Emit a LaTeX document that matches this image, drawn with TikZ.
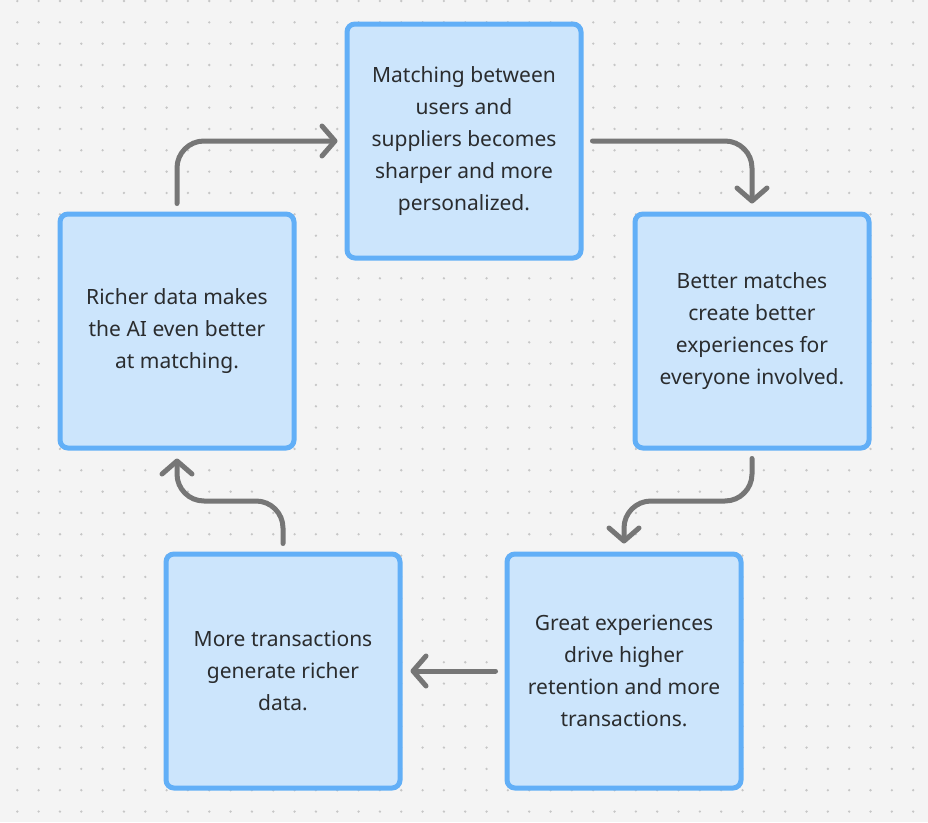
\documentclass[tikz,border=0pt]{standalone}
\usepackage{fontspec}
\setmainfont{Noto Sans}
\usepackage{tikz}
\usetikzlibrary{calc,arrows.meta}
\definecolor{bggray}{HTML}{F4F4F4}
\definecolor{dotgray}{HTML}{C6C6C6}
\definecolor{boxfill}{HTML}{CCE5FC}
\definecolor{boxline}{HTML}{62AFF7}
\definecolor{arrgray}{HTML}{767676}
\definecolor{txtgray}{HTML}{2A2C2E}

\begin{document}
\begin{tikzpicture}[x=1pt,y=-1pt,
    stepbox/.style={draw=boxline, fill=boxfill, line width=5pt, rounded corners=8pt,
      minimum width=234pt, minimum height=234pt, align=center, text=txtgray,
      font=\fontsize{21}{32}\selectfont},
    flow/.style={draw=arrgray, line width=5pt, line cap=round, line join=round, rounded corners=27pt,
      -{Straight Barb[length=13pt,width=30pt,round]}}]
      \useasboundingbox (0,0) rectangle (928,822);
      \fill[bggray] (0,0) rectangle (928,822);
      \foreach \i in {0,...,42}
        \foreach \j in {0,...,38}
          \fill[dotgray] (17.3+21.33*\i, 1+21.33*\j) circle (1.3pt);

      \node (M) at (464,141) [stepbox] {Matching between\\users and\\suppliers becomes\\sharper and more\\personalized.};
      \node (E) at (752,331) [stepbox] {Better matches\\create better\\experiences for\\everyone involved.};
      \node (R) at (624,671) [stepbox] {Great experiences\\drive higher\\retention and more\\transactions.};
      \node (T) at (283,671) [stepbox] {More transactions\\generate richer\\data.};
      \node (D) at (177,331) [stepbox] {Richer data makes\\the AI even better\\at matching.};

      \coordinate (m3) at ($(E.south)!.5!(R.north)$);
      \coordinate (m5) at ($(T.north)!.5!(D.south)$);

      \draw[flow] ([yshift=8pt]D.north) |- ([xshift=-7pt]M.west);
      \draw[flow] ([xshift=9pt]M.east) -| ([yshift=8pt]E.north);
      \draw[flow] ([yshift=-8pt]E.south) -- (E.south |- m3) -| ([yshift=8pt]R.north);
      \draw[flow] ([xshift=-9pt]R.west) -- ([xshift=8pt]T.east);
      \draw[flow] ([yshift=8pt]T.north) -- (T.north |- m5) -| ([yshift=-8pt]D.south);

    \end{tikzpicture}
\end{document}
